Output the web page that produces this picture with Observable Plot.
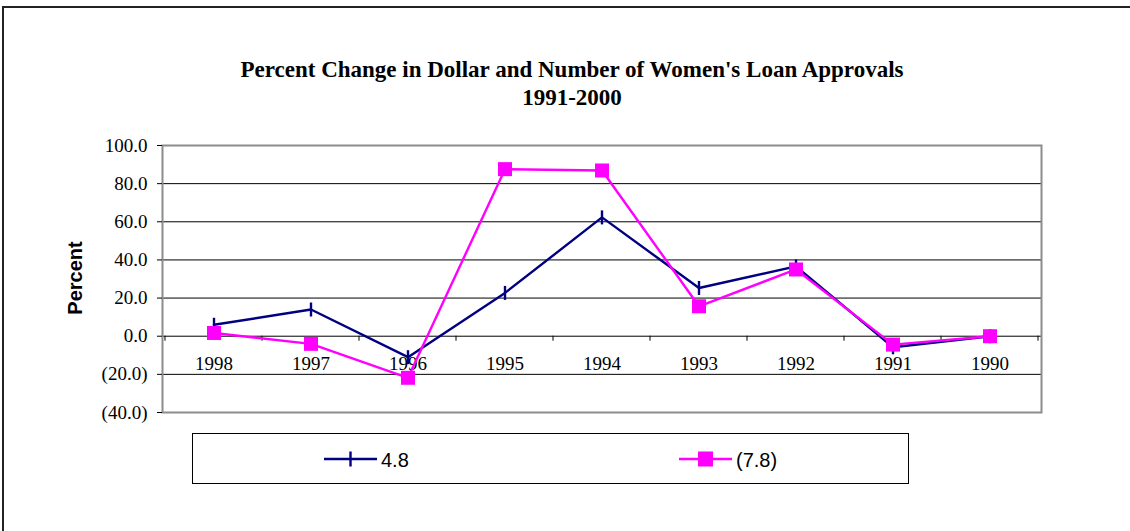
<!DOCTYPE html>
<html>
<head>
<meta charset="utf-8">
<script src="https://cdn.jsdelivr.net/npm/d3@7"></script>
<script src="https://cdn.jsdelivr.net/npm/@observablehq/plot@0.6"></script>
<style>
  html, body { margin: 0; padding: 0; background: #fff; }
  #wrap { position: relative; width: 1130px; height: 531px; overflow: hidden; background: #fff; }
  #wrap > * { position: absolute; left: 0; top: 0; }
  #outer { left: 2px; top: 6px; width: 1140px; height: 600px; border-left: 2px solid #222; border-top: 2px solid #222; box-sizing: border-box; }
</style>
</head>
<body>
<div id="wrap"><div id="outer"></div></div>
<script>
const categories = ["1998", "1997", "1996", "1995", "1994", "1993", "1992", "1991", "1990"];
const dollarChange = [6.0, 14.0, -11.0, 22.7, 62.3, 25.3, 36.6, -5.8, 0.0];
const numberChange = [1.7, -4.0, -21.8, 87.6, 86.9, 15.7, 35.0, -4.4, 0.0];
const seriesNames = ["4.8", "(7.8)"];
const seriesColors = ["#000080", "#FF00FF"];
const yTicks = [-40, -20, 0, 20, 40, 60, 80, 100];
const gridValues = [-20, 0, 20, 40, 60, 80];
const titleLines = ["Percent Change in Dollar and Number of Women's Loan Approvals", "1991-2000"];
const yLabel = "Percent";

const rows = [];
categories.forEach((c, i) => {
  rows.push({year: c, value: dollarChange[i], series: seriesNames[0]});
  rows.push({year: c, value: numberChange[i], series: seriesNames[1]});
});
const dollarRows = rows.filter(d => d.series === seriesNames[0]);
const numberRows = rows.filter(d => d.series === seriesNames[1]);

const fmt = v => v < 0 ? `(${Math.abs(v).toFixed(1)})` : v.toFixed(1);

const vbar = {draw(ctx, size) { const h = Math.sqrt(size / Math.PI); ctx.moveTo(0, -h); ctx.lineTo(0, h); }};
const square = {draw(ctx, size) { const h = Math.sqrt(size / Math.PI); ctx.rect(-h, -h, 2 * h, 2 * h); }};

function boundaryTicks(index, scales, values, dimensions) {
  const s = scales.x;
  const step = s(categories[1]) - s(categories[0]);
  const y0 = scales.y(0);
  const g = d3.create("svg:g").attr("stroke", "black").attr("stroke-width", 1);
  const xs = categories.map(c => s(c)).concat([s(categories[categories.length - 1]) + step]);
  for (const x of xs) g.append("line").attr("x1", x).attr("x2", x).attr("y1", y0).attr("y2", y0 + 5);
  return g.node();
}

const chart = Plot.plot({
  width: 1130, height: 531,
  marginLeft: 162, marginRight: 89, marginTop: 145, marginBottom: 119,
  style: {background: "transparent", fontFamily: "'Liberation Serif', serif", color: "black"},
  x: {type: "band", domain: categories, padding: 0, axis: null},
  y: {domain: [-40, 100], axis: null},
  marks: [
    Plot.ruleY(gridValues, {stroke: "black", strokeWidth: 1}),
    Plot.frame({stroke: "#8c8c8c", strokeWidth: 2}),
    Plot.axisY(yTicks, {tickSize: 5, tickPadding: 10, tickFormat: fmt, fontSize: 19, label: null, stroke: "black"}),
    boundaryTicks,
    Plot.text(categories, {x: d => d, y: 0, text: d => d, dy: 20, lineAnchor: "top", fontSize: 19, fill: "black"}),
    Plot.line(dollarRows, {x: "year", y: "value", stroke: seriesColors[0], strokeWidth: 2.4}),
    Plot.dot(dollarRows, {x: "year", y: "value", symbol: vbar, r: 7, stroke: seriesColors[0], strokeWidth: 2.4, fill: "none"}),
    Plot.line(numberRows, {x: "year", y: "value", stroke: seriesColors[1], strokeWidth: 2.4}),
    Plot.dot(numberRows, {x: "year", y: "value", symbol: square, r: 7, fill: seriesColors[1], stroke: "none"})
  ]
});
const wrap = document.getElementById("wrap");
wrap.appendChild(chart);

// Title and axis label overlay
const ov = d3.create("svg").attr("width", 1130).attr("height", 531).style("pointer-events", "none");
ov.append("text").attr("x", 572).attr("y", 77).attr("text-anchor", "middle")
  .attr("font-family", "'Liberation Serif', serif").attr("font-weight", "bold").attr("font-size", 23)
  .text(titleLines[0]);
ov.append("text").attr("x", 572).attr("y", 105).attr("text-anchor", "middle")
  .attr("font-family", "'Liberation Serif', serif").attr("font-weight", "bold").attr("font-size", 23)
  .text(titleLines[1]);
ov.append("text").attr("transform", "translate(82,278) rotate(-90)").attr("text-anchor", "middle")
  .attr("font-family", "'Liberation Sans', Arial, sans-serif").attr("font-weight", "bold").attr("font-size", 20)
  .text(yLabel);
wrap.appendChild(ov.node());

// Legend
const lg = d3.create("svg").attr("width", 717).attr("height", 51)
  .style("left", "192px").style("top", "433px");
lg.append("rect").attr("x", 0.5).attr("y", 0.5).attr("width", 716).attr("height", 50).attr("fill", "white").attr("stroke", "black");
const items = [{x0: 132, marker: "bar"}, {x0: 487, marker: "square"}];
items.forEach((it, i) => {
  const cy = 26;
  lg.append("line").attr("x1", it.x0).attr("x2", it.x0 + 53).attr("y1", cy).attr("y2", cy)
    .attr("stroke", seriesColors[i]).attr("stroke-width", 2.4);
  if (it.marker === "bar") {
    lg.append("line").attr("x1", it.x0 + 26.5).attr("x2", it.x0 + 26.5).attr("y1", cy - 7.5).attr("y2", cy + 7.5)
      .attr("stroke", seriesColors[i]).attr("stroke-width", 2.4);
  } else {
    lg.append("rect").attr("x", it.x0 + 19).attr("y", cy - 7.5).attr("width", 15).attr("height", 15).attr("fill", seriesColors[i]);
  }
  lg.append("text").attr("x", it.x0 + 57).attr("y", cy + 7.5)
    .attr("font-family", "'Liberation Sans', Arial, sans-serif").attr("font-size", 20).text(seriesNames[i]);
});
wrap.appendChild(lg.node());
</script>
</body>
</html>
